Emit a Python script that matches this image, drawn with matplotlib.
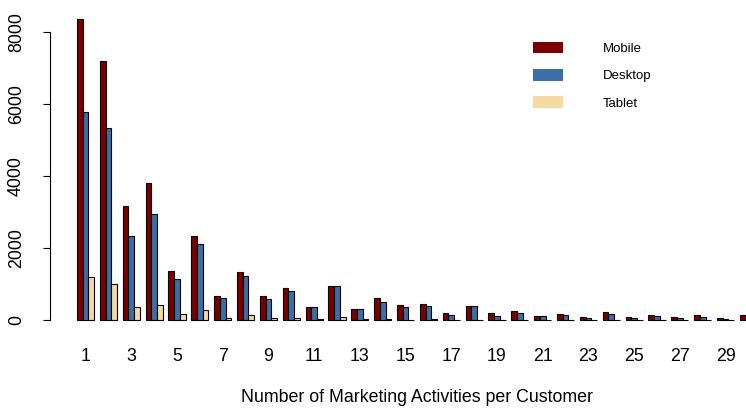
#!/usr/bin/env python3
"""
Grouped bar chart: marketing activities per customer by device type
"""
import matplotlib.pyplot as plt
import numpy as np
from matplotlib.patches import Patch

# Data
activities = list(range(1, 31))
devices = ['Mobile', 'Desktop', 'Tablet']
mobile = [8353, 7186, 3175, 3797, 1361, 2342, 675, 1342, 670, 898,
          350, 935, 310, 610, 420, 454, 190, 400, 180, 245,
          120, 175, 88, 218, 83, 142, 96, 134, 60, 130]
desktop = [5769, 5342, 2333, 2936, 1139, 2103, 619, 1214, 578, 805,
           370, 935, 310, 495, 361, 394, 148, 400, 115, 190,
           110, 135, 56, 170, 46, 97, 65, 93, 37, 70]
tablet = [1203, 992, 369, 417, 158, 278, 64, 131, 48, 65,
          15, 80, 18, 25, 12, 15, 8, 12, 6, 10,
          5, 8, 4, 6, 3, 5, 3, 4, 2, 3]

colors = ['#7a0000', '#3a6ea8', '#f5d8a2']

plt.rcParams['font.family'] = ['Liberation Sans', 'DejaVu Sans']
fs = 12.8

fig = plt.figure(figsize=(7.46, 4.08), dpi=100)
# axes extends past the right edge, like the clipped R device
ax = fig.add_axes([49.8 / 746, 76 / 408, 734.4 / 746, 324.7 / 408])

# R barplot(beside=TRUE) layout: space=c(0,1), bar width 1
n = len(activities)
group_left = 1 + 4 * np.arange(n)
for k, (vals, col) in enumerate(zip([mobile, desktop, tablet], colors)):
    ax.bar(group_left + k, vals, width=1, align='edge', color=col,
           edgecolor='black', linewidth=0.8)

centers = group_left + 1.5
span = centers[-1] + 1.5 - 1
ax.set_xlim(1 - 0.04 * span, 1 + span + 0.04 * span)
ymax = max(mobile)
ax.set_ylim(-0.04 * ymax, 1.04 * ymax)

ax.set_xticks(centers[::2])
ax.set_xticklabels([str(a) for a in activities[::2]], fontsize=fs)
ax.tick_params(axis='x', length=0, pad=11.5)

ax.set_yticks([0, 2000, 4000, 6000, 8000])
ax.set_yticklabels(['0', '2000', '4000', '6000', '8000'], fontsize=fs,
                   rotation=90, va='center')
ax.tick_params(axis='y', length=5, width=0.8, pad=13)

for side in ['top', 'right', 'bottom']:
    ax.spines[side].set_visible(False)
ax.spines['left'].set_bounds(0, 8000)
ax.spines['left'].set_linewidth(0.8)

ax.set_xlabel('Number of Marketing Activities per Customer', fontsize=fs,
              labelpad=17.5)

handles = [Patch(facecolor=c, edgecolor='none') for c in colors]
ax.legend(handles, devices, loc='upper left',
          bbox_to_anchor=(526 / 746, 1 - 35 / 408), bbox_transform=fig.transFigure,
          frameon=False, fontsize=9.5, borderpad=0, handlelength=2.3,
          handleheight=1.0, handletextpad=3.0, labelspacing=1.05)

fig.savefig('out.png', dpi=100)
